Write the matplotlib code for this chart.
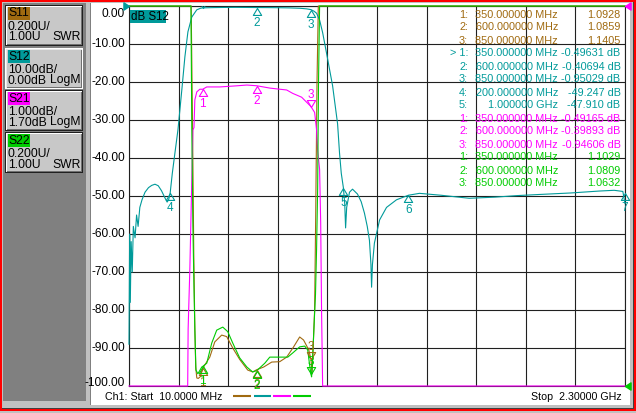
import numpy as np
import matplotlib
matplotlib.use("Agg")
import matplotlib.pyplot as plt
from matplotlib.patches import Rectangle
from matplotlib.path import Path
from matplotlib.transforms import blended_transform_factory

plt.rcParams['font.family'] = ['Liberation Sans', 'DejaVu Sans']

# ---------------- data ----------------
f_start_mhz = 10.0
f_stop_mhz = 2300.0
y_ticks = [0, -10, -20, -30, -40, -50, -60, -70, -80, -90, -100]

channels = ['S11', 'S12', 'S21', 'S22']
ch_colors = ['#a06a10', '#009a9a', '#ff00ff', '#00cc00']
ch_format = ['SWR', 'LogM', 'LogM', 'SWR']
ch_scale = [0.2, 10.0, 1.0, 0.2]        # units per division
ch_ref = [1.0, 0.0, 1.7, 1.0]           # reference value
ch_refpos = [-100, 0, 0, -100]          # reference position on the 0..-100 grid
panel_line1 = ['0.200U/', '10.00dB/', '1.000dB/', '0.200U/']
panel_line2 = ['1.00U', '0.00dB', '1.70dB', '1.00U']

# S11 (SWR)
s11_f = [10, 200, 288, 297, 303, 309, 314, 318, 323, 330, 340, 350, 383, 406, 438, 461,
         489, 521, 558, 581, 600, 632, 669, 706, 738, 770, 798, 816, 840, 850, 855, 860,
         867, 872, 878, 884, 1000, 2300]
s11_swr = [20, 20, 8, 3.2, 2.4, 1.7, 1.3, 1.1, 1.042, 1.04, 1.05, 1.0928, 1.152, 1.232,
           1.268, 1.26, 1.2, 1.14, 1.084, 1.074, 1.0859, 1.10, 1.126, 1.128, 1.152, 1.206,
           1.258, 1.242, 1.19, 1.1405, 1.064, 1.2, 1.4, 1.9, 2.6, 3.5, 15, 20]

# S12 (dB)
s12_f = [10, 13, 16, 20, 25, 30, 38, 45, 52, 60, 70, 84, 100, 115, 130, 145, 160, 176,
         186, 193, 200, 210, 222, 236, 254, 268, 282, 300, 323, 340, 350, 400, 450, 500,
         550, 600, 650, 700, 750, 800, 830, 850, 865, 876, 890, 904, 922, 950, 973, 982,
         990, 1000, 1006, 1010, 1015, 1028, 1042, 1065, 1082, 1097, 1110, 1120, 1127,
         1130, 1134, 1143, 1167, 1199, 1245, 1300, 1351, 1450, 1581, 1700, 1800, 1904,
         2050, 2180, 2250, 2290, 2300]
s12_db = [-89, -60, -78, -62, -70, -58, -61, -55, -58, -53, -51, -49, -47.8, -47.2, -46.9,
          -47.3, -48.6, -50.5, -51.6, -51.0, -49.25, -44, -38.7, -32.6, -22, -13.4, -6.8,
          -2.9, -1.0, -0.6, -0.496, -0.42, -0.38, -0.36, -0.38, -0.407, -0.42, -0.45, -0.5,
          -0.6, -0.75, -0.95, -1.4, -1.9, -3.7, -7, -12.4, -21, -31, -38.7, -44, -47.91,
          -52, -58.4, -53, -49, -48.2, -49.5, -51.5, -54.5, -58, -61.6, -68, -74, -68,
          -62.4, -56.3, -53, -51, -49.8, -49.3, -49.8, -50.6, -50.3, -49.9, -49.6, -49.2,
          -48.7, -48.5, -48.8, -52]

# S21 (dB)
s21_f = [10, 270, 281, 283, 291, 296, 305, 310, 314, 323, 337, 350, 369, 429, 508, 554,
         600, 660, 706, 738, 766, 807, 850, 867, 876, 881, 890, 895, 899, 904, 920, 2300]
s21_db = [-40, -30, -9.0, -6.8, -5.2, -3.9, -1.56, -1.5, -0.77, -0.56, -0.49, -0.49165,
          -0.43, -0.43, -0.40, -0.38, -0.39893, -0.46, -0.49, -0.51, -0.60, -0.70,
          -0.94606, -1.1, -1.56, -2.1, -2.6, -4.0, -6.3, -8.5, -30, -40]

# S22 (SWR)
s22_f = [10, 290, 296, 300, 305, 310, 314, 319, 328, 346, 350, 369, 392, 415, 443, 466,
         489, 521, 554, 581, 600, 637, 660, 706, 743, 766, 798, 821, 835, 844, 850, 853,
         858, 867, 871, 876, 881, 885, 890, 1000, 2300]
s22_swr = [20, 8, 3.0, 2.35, 1.84, 1.52, 1.3, 1.084, 1.064, 1.10, 1.1029, 1.12, 1.226,
           1.294, 1.31, 1.286, 1.226, 1.148, 1.10, 1.074, 1.0809, 1.12, 1.152, 1.152,
           1.152, 1.174, 1.206, 1.21, 1.19, 1.11, 1.0632, 1.048, 1.152, 1.384, 1.48, 1.72,
           2.04, 2.6, 3.5, 15, 20]

# markers
s11_mk_f = [350, 600, 850]
s11_mk_v = [1.0928, 1.0859, 1.1405]
s12_mk_f = [350, 600, 850, 200, 1000, 1300, 2300]
s12_mk_v = [-0.49631, -0.40694, -0.95029, -49.247, -47.910, -49.8, -49.2]
s21_mk_f = [350, 600, 850]
s21_mk_v = [-0.49165, -0.39893, -0.94606]
s22_mk_f = [350, 600, 850]
s22_mk_v = [1.1029, 1.0809, 1.0632]
mk_rows_shown = [3, 5, 3, 3]
mk_active = [2, 0, 2, 2]
table_active_channel = 1

traces = [(s11_f, s11_swr), (s12_f, s12_db), (s21_f, s21_db), (s22_f, s22_swr)]
markers = [(s11_mk_f, s11_mk_v), (s12_mk_f, s12_mk_v), (s21_mk_f, s21_mk_v),
           (s22_mk_f, s22_mk_v)]

# ---------------- figure ----------------
W, H = 636, 413
fig = plt.figure(figsize=(W / 100, H / 100), dpi=100)
fig.patch.set_facecolor('#c0c0c0')

bg = fig.add_axes([0, 0, 1, 1], zorder=0)
bg.set_xlim(0, W); bg.set_ylim(H, 0); bg.axis('off')
fg = fig.add_axes([0, 0, 1, 1], zorder=3)
fg.set_xlim(0, W); fg.set_ylim(H, 0); fg.axis('off'); fg.patch.set_alpha(0)


def rect(a, x0, y0, x1, y1, color, z=1):
    a.add_patch(Rectangle((x0, y0), x1 - x0, y1 - y0, facecolor=color,
                          edgecolor='none', zorder=z))


# window frame
rect(bg, 0, 0, W, 1.5, '#ff0000', 5)
rect(bg, 0, 409, W, 411, '#ff0000', 5)
rect(bg, 0, 0, 1.5, 411, '#ff0000', 5)
rect(bg, 634, 0, 636, 411, '#ff0000', 5)
rect(bg, 0, 407.5, W, 408.5, '#404040', 4)
rect(bg, 632.5, 2, 633.5, 409, '#404040', 4)

# left panel
rect(bg, 3, 3, 86, 401, '#808080', 1)
rect(bg, 89.5, 3, 91, 405, '#808080', 1)
rect(bg, 91, 3, 630, 405, 'white', 1)

box_tops = [5, 48, 90, 132]
for i, name in enumerate(channels):
    t = box_tops[i]
    b = t + 41
    sel = (i == table_active_channel)
    rect(bg, 5, t, 83, b, '#ffffff' if sel else '#202020', 2)
    rect(bg, 6, t + 1, 82, b - 1, '#e8e8e8' if sel else '#ffffff', 2)
    rect(bg, 7, t + 2, 82, b - 1, '#707070', 2)
    rect(bg, 7, t + 2, 81, b - 2, '#c8c8c8', 2)
    rect(bg, 7.5, t + 2, 30, t + 14.5, ch_colors[i], 3)
    bg.text(8, t + 8.5, name, fontsize=8.7, color='black', va='center', ha='left', zorder=4)
    bg.text(8, t + 22, panel_line1[i], fontsize=8.7, color='black', va='center', ha='left', zorder=4)
    bg.text(8, t + 32.5, panel_line2[i], fontsize=8.7, color='black', va='center', ha='left', zorder=4)
    bg.text(80.5, t + 32.5, ch_format[i], fontsize=8.7, color='black', va='center', ha='right', zorder=4)

# ---------------- plot axes ----------------
ax = fig.add_axes([129 / W, 1 - 386 / H, 496 / W, 380 / H], zorder=1)
ax.set_facecolor('none')
ax.set_xlim(f_start_mhz, f_stop_mhz)
ax.set_ylim(-100, 0)
ax.set_xticks(np.linspace(f_start_mhz, f_stop_mhz, 11))
ax.set_yticks(y_ticks)
ax.grid(True, color='#202020', lw=0.8)
ax.tick_params(length=0, labelbottom=False, labelleft=False)
for s in ax.spines.values():
    s.set_color('#202020'); s.set_linewidth(0.8)


def to_grid(i, v):
    v = np.asarray(v, dtype=float)
    return ch_refpos[i] + (v - ch_ref[i]) / ch_scale[i] * 10.0


for i, (fx, vy) in enumerate(traces):
    g = np.clip(to_grid(i, vy), -100, 0)
    ax.plot(fx, g, color=ch_colors[i], lw=0.8, zorder=3 + i, clip_on=False)

tri_up = Path([(0, 0), (-0.6, -1), (0.6, -1), (0, 0)],
              [Path.MOVETO, Path.LINETO, Path.LINETO, Path.CLOSEPOLY])
tri_dn = Path([(0, 0), (-0.6, 1), (0.6, 1), (0, 0)],
              [Path.MOVETO, Path.LINETO, Path.LINETO, Path.CLOSEPOLY])

for i, (mf, mv) in enumerate(markers):
    g = to_grid(i, mv)
    for k in range(len(mf)):
        down = (k == mk_active[i])
        clip = (down and g[k] > -5)
        ax.plot([mf[k]], [g[k]], marker=tri_dn if down else tri_up, ms=10,
                mfc='none', mec=ch_colors[i], mew=0.8, ls='none', zorder=10 + i,
                clip_on=clip)
        if not clip:
            ax.annotate(str(k + 1), (mf[k], g[k]), xytext=(0, 12 if down else -15),
                        textcoords='offset pixels', ha='center', va='center',
                        fontsize=8.5, color=ch_colors[i], zorder=10 + i,
                        annotation_clip=False)

# reference-position triangles
ref_r = Path([(0, 0), (-1, 0.65), (-1, -0.65), (0, 0)],
             [Path.MOVETO, Path.LINETO, Path.LINETO, Path.CLOSEPOLY])
ref_l = Path([(0, 0), (1, 0.65), (1, -0.65), (0, 0)],
             [Path.MOVETO, Path.LINETO, Path.LINETO, Path.CLOSEPOLY])
ax.plot([f_start_mhz], [ch_refpos[1]], marker=ref_r, ms=8, color=ch_colors[1],
        ls='none', clip_on=False, zorder=12)
ax.plot([f_stop_mhz], [ch_refpos[2]], marker=ref_l, ms=8, color=ch_colors[2],
        ls='none', clip_on=False, zorder=12)
ax.plot([f_stop_mhz], [ch_refpos[3]], marker=ref_l, ms=8, color=ch_colors[3],
        ls='none', clip_on=False, zorder=12)

# y tick labels
tr = blended_transform_factory(ax.transAxes, ax.transData)
for v in y_ticks:
    dy = -8 if v == 0 else (3 if v == -100 else 0)
    ax.annotate(f"{v:.2f}", (0, v), xycoords=tr, xytext=(-4, dy),
                textcoords='offset pixels', ha='right', va='center',
                fontsize=8.6, color='black', annotation_clip=False)

# "dB S12" label
rect(fg, 130, 10, 166, 23, ch_colors[1], 2)
fg.text(131, 16.8, 'dB ' + channels[1], fontsize=8.3, color='black', va='center',
        ha='left', zorder=3)

# marker table
row = 0
for i in range(4):
    mf, mv = markers[i]
    for k in range(mk_rows_shown[i]):
        y = 14.5 + 13 * row
        lab = f"{k + 1}:"
        if i == table_active_channel and k == mk_active[i]:
            lab = "> " + lab
        fr = mf[k]
        fstr = f"{fr:.6f} MHz" if fr < 1000 else f"{fr / 1000:.6f} GHz"
        vstr = f"{mv[k]:#.5g}" + (" dB" if ch_format[i] == 'LogM' else "")
        c = ch_colors[i]
        fg.text(468, y, lab, fontsize=7.8, color=c, ha='right', va='center')
        fg.text(558, y, fstr, fontsize=7.8, color=c, ha='right', va='center')
        fg.text(620.5, y, vstr, fontsize=7.8, color=c, ha='right', va='center')
        row += 1

# bottom status line
fg.text(105, 397, f"Ch1: Start  {f_start_mhz:.4f} MHz", fontsize=7.7, color='black',
        ha='left', va='center')
fg.text(622, 397, f"Stop  {f_stop_mhz / 1000:.5f} GHz", fontsize=7.7, color='black',
        ha='right', va='center')
for i, (x0, x1) in enumerate([(233, 251), (254, 271), (273, 291), (293, 311)]):
    fg.plot([x0, x1], [396, 396], color=ch_colors[i], lw=1.5, solid_capstyle='butt')

fig.savefig('out.png', dpi=100, facecolor=fig.get_facecolor())
